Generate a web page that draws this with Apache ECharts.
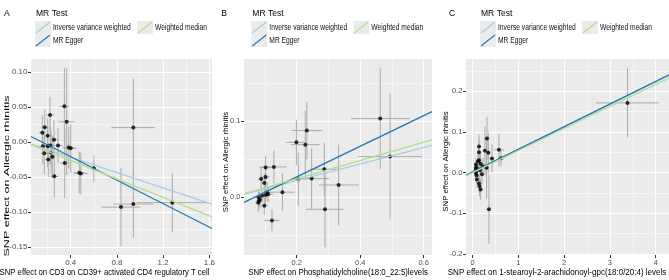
<!DOCTYPE html>
<html>
<head>
<meta charset="utf-8">
<script src="https://cdn.jsdelivr.net/npm/echarts@6/dist/echarts.min.js"></script>
<style>
  html, body { margin: 0; padding: 0; background: #fff; }
  #chart { width: 669px; height: 280px; }
</style>
</head>
<body>
<div id="chart"></div>
<script>
// MR methods, legend order
const methodNames = ['Inverse variance weighted', 'MR Egger', 'Weighted median'];
const methodColors = ['#A6CEE3', '#1F78B4', '#B2DF8A'];

// Panel A: CD3 on CD39+ activated CD4 regulatory T cell
const aBetaX = [0.345, 0.365, 0.221, 0.175, 0.154, 0.201, 0.255, 0.29, 0.158, 0.201, 0.224, 0.383, 0.40,
  0.171, 0.23, 0.24, 0.206, 0.348, 0.258, 0.474, 0.487, 0.60, 0.835, 0.942, 0.942, 1.28];
const aBetaY = [0.051, 0.029, 0.0386, 0.021, 0.0134, 0.009, 0.0034, -0.005, -0.006, -0.006, -0.005, -0.008, -0.009,
  -0.016, -0.015, -0.021, -0.025, -0.030, -0.049, -0.044, -0.045, -0.0376, -0.093, -0.0886, 0.0206, -0.0866];
const aSeX = [0.045, 0.07, 0.035, 0.03, 0.03, 0.035, 0.04, 0.04, 0.035, 0.03, 0.035, 0.05, 0.05,
  0.03, 0.035, 0.03, 0.03, 0.04, 0.035, 0.05, 0.06, 0.02, 0.17, 0.17, 0.19, 0.31];
const aSeY = [0.055, 0.076, 0.026, 0.025, 0.025, 0.025, 0.028, 0.025, 0.025, 0.03, 0.028, 0.03, 0.035,
  0.03, 0.03, 0.03, 0.025, 0.05, 0.03, 0.03, 0.03, 0.019, 0.056, 0.048, 0.07, 0.042];
const aSlope = [-0.0547, -0.0839, -0.0659];
const aIntercept = [0, 0.0126, 0];
const aXRange = [0.056, 1.623];
const aYRange = [-0.1614, 0.1186];
const aXTicks = [0.4, 0.8, 1.2, 1.6];
const aYTicks = [-0.15, -0.10, -0.05, 0.00, 0.05, 0.10];
const aXTitle = 'SNP effect on CD3 on CD39+ activated CD4 regulatory T cell';

// Panel B: Phosphatidylcholine(18:0_22:5)
const bBetaX = [0.463, 0.494, 0.232, 0.199, 0.227, 0.205, 0.247, 0.287, 0.332, 0.289, 0.155, 0.128, 0.102,
  0.102, 0.088, 0.098, 0.122, 0.098, 0.080, 0.084, 0.081, 0.079, 0.091, 0.107, 0.102, 0.110];
const bBetaY = [0.1034, 0.0532, 0.0876, 0.072, 0.069, 0.0234, 0.0242, 0.0366, 0.0158, -0.0163, 0.0063, 0.0396, 0.0387,
  0.0264, 0.0238, 0.0185, -0.031, -0.0115, -0.0005, -0.0036, -0.0054, -0.0077, 0.0017, 0.0057, 0.0026, 0.0035];
const bSeX = [0.092, 0.10, 0.049, 0.032, 0.045, 0.025, 0.055, 0.045, 0.063, 0.059, 0.038, 0.04, 0.02,
  0.015, 0.012, 0.012, 0.024, 0.012, 0.01, 0.01, 0.01, 0.01, 0.012, 0.015, 0.012, 0.015];
const bSeY = [0.067, 0.083, 0.038, 0.03, 0.045, 0.035, 0.04, 0.035, 0.053, 0.05, 0.025, 0.022, 0.015,
  0.015, 0.015, 0.012, 0.014, 0.012, 0.01, 0.01, 0.012, 0.012, 0.01, 0.012, 0.012, 0.01];
const bSlope = [0.1085, 0.2022, 0.1205];
const bIntercept = [0, -0.0141, 0];
const bXRange = [0.034, 0.626];
const bYRange = [-0.0766, 0.182];
const bXTicks = [0.2, 0.4, 0.6];
const bYTicks = [0.0, 0.1];
const bXTitle = 'SNP effect on Phosphatidylcholine(18:0_22:5)levels';

// Panel C: 1-stearoyl-2-arachidonoyl-gpc(18:0/20:4)
const cBetaX = [3.384, 0.314, 0.576, 0.14, 0.27, 0.14, 0.343, 0.423, 0.62, 0.118, 0.14, 0.175, 0.227, 0.074,
  0.074, 0.074, 0.074, 0.306, 0.11, 0.16, 0.074, 0.087, 0.205, 0.095, 0.14, 0.153, 0.175, 0.358];
const cBetaY = [0.1712, 0.0838, 0.0558, 0.064, 0.0533, 0.050, 0.0484, 0.0346, 0.0354, 0.028, 0.030, 0.0214, 0.0157, 0.020,
  0.0125, 0.0076, 0.0027, 0.0116, 0.009, 0.006, -0.002, -0.007, -0.004, -0.017, -0.027, -0.0334, -0.0415, -0.0899];
const cSeX = [0.69, 0.06, 0.11, 0.04, 0.05, 0.04, 0.05, 0.05, 0.05, 0.03, 0.03, 0.04, 0.05, 0.02,
  0.02, 0.02, 0.02, 0.05, 0.03, 0.03, 0.02, 0.02, 0.04, 0.02, 0.03, 0.03, 0.03, 0.04];
const cSeY = [0.085, 0.053, 0.04, 0.03, 0.06, 0.03, 0.05, 0.034, 0.02, 0.02, 0.02, 0.025, 0.02, 0.015,
  0.015, 0.015, 0.015, 0.075, 0.02, 0.02, 0.02, 0.02, 0.025, 0.02, 0.02, 0.025, 0.025, 0.085];
const cSlope = [0.0556, 0.0556, 0.0541];
const cIntercept = [0, 0.0016, 0];
const cXRange = [-0.144, 4.29];
const cYRange = [-0.2025, 0.279];
const cXTicks = [0, 1, 2, 3, 4];
const cYTicks = [-0.2, -0.1, 0.0, 0.1, 0.2];
const cXTitle = 'SNP effect on 1-stearoyl-2-arachidonoyl-gpc(18:0/20:4) levels';

const yTitle = 'SNP effect on Allergic rhinitis';
const panelLetters = ['A', 'B', 'C'];

const FONT = '"Liberation Sans", Arial, sans-serif';

// per-panel layout: grid box, legend offset,
// x title [cx, cy, fontSize, widthScale], y title [cx, cy, fontSize, thicknessScale]
const panels = [
  { bx: aBetaX, by: aBetaY, sx: aSeX, sy: aSeY, slope: aSlope, icpt: aIntercept,
    xRange: aXRange, yRange: aYRange, xTicks: aXTicks, yTicks: aYTicks, xDig: 1, yDig: 2, xTitle: aXTitle,
    grid: { left: 31, top: 59, width: 181, height: 196 }, dx: 0, tickFont: 8,
    xTitlePos: [104.5, 272.5, 9.2, 0.84], yTitlePos: [6.5, 176, 12.5, 0.6] },
  { bx: bBetaX, by: bBetaY, sx: bSeX, sy: bSeY, slope: bSlope, icpt: bIntercept,
    xRange: bXRange, yRange: bYRange, xTicks: bXTicks, yTicks: bYTicks, xDig: 1, yDig: 1, xTitle: bXTitle,
    grid: { left: 244, top: 59, width: 188, height: 196 }, dx: 216.3, tickFont: 7.5,
    xTitlePos: [338, 272.5, 9.2, 0.85], yTitlePos: [226.5, 162, 7.8, 0.9] },
  { bx: cBetaX, by: cBetaY, sx: cSeX, sy: cSeY, slope: cSlope, icpt: cIntercept,
    xRange: cXRange, yRange: cYRange, xTicks: cXTicks, yTicks: cYTicks, xDig: 0, yDig: 1, xTitle: cXTitle,
    grid: { left: 466, top: 59, width: 203, height: 196 }, dx: 445, tickFont: 7.5,
    xTitlePos: [557, 272.5, 9.2, 0.87], yTitlePos: [446, 161.5, 7.8, 0.9] }
];

const chart = echarts.init(document.getElementById('chart'), null, { renderer: 'canvas' });

const grids = [];
const xAxes = [];
const yAxes = [];
const series = [];
const graphics = [];

function axisStyle(ticks, digits, range, fontSize) {
  const step = ticks[1] - ticks[0];
  return {
    min: range[0],
    max: range[1],
    minInterval: step,
    maxInterval: step,
    axisLine: { show: false, onZero: false },
    axisTick: { show: true, customValues: ticks, length: 3, lineStyle: { color: '#333333', width: 1 } },
    axisLabel: {
      customValues: ticks, color: '#4d4d4d', fontSize: fontSize, fontFamily: FONT, margin: 3.5,
      formatter: (v) => Number(v).toFixed(digits)
    },
    splitLine: { show: true, lineStyle: { color: '#ffffff', width: 1 } },
    minorTick: { show: false, splitNumber: 2 },
    minorSplitLine: { show: true, lineStyle: { color: '#ffffff', width: 0.5 } }
  };
}

// legend layout (relative to panel A)
const legendSlots = [
  { kx: 35, ky: 21 },   // IVW
  { kx: 35, ky: 34 },   // MR Egger
  { kx: 137, ky: 21 }   // Weighted median
];

panels.forEach((p, i) => {
  grids.push(Object.assign({ show: true, backgroundColor: '#ebebeb', borderWidth: 0, outerBoundsMode: 'none' }, p.grid));
  xAxes.push(Object.assign({ type: 'value', gridIndex: i }, axisStyle(p.xTicks, p.xDig, p.xRange, p.tickFont)));
  yAxes.push(Object.assign({ type: 'value', gridIndex: i }, axisStyle(p.yTicks, p.yDig, p.yRange, p.tickFont)));

  const rows = p.bx.map((x, k) => [x, p.by[k], p.sx[k], p.sy[k]]);

  // error bars (beta +/- se on both axes)
  series.push({
    type: 'custom',
    xAxisIndex: i,
    yAxisIndex: i,
    clip: true,
    silent: true,
    z: 1,
    encode: { x: 0, y: 1 },
    data: rows,
    renderItem: (params, api) => {
      const x = api.value(0), y = api.value(1), sx = api.value(2), sy = api.value(3);
      const h0 = api.coord([x - sx, y]), h1 = api.coord([x + sx, y]);
      const v0 = api.coord([x, y - sy]), v1 = api.coord([x, y + sy]);
      const st = { stroke: '#ababab', lineWidth: 1 };
      return {
        type: 'group',
        children: [
          { type: 'line', shape: { x1: h0[0], y1: h0[1], x2: h1[0], y2: h1[1] }, style: st },
          { type: 'line', shape: { x1: v0[0], y1: v0[1], x2: v1[0], y2: v1[1] }, style: st }
        ]
      };
    }
  });

  series.push({
    type: 'scatter',
    xAxisIndex: i,
    yAxisIndex: i,
    z: 2,
    symbolSize: 4,
    itemStyle: { color: '#000000' },
    data: rows.map((r) => [r[0], r[1]])
  });

  // regression lines
  methodNames.forEach((name, m) => {
    series.push({
      type: 'line',
      name: name,
      xAxisIndex: i,
      yAxisIndex: i,
      z: 3 + m,
      symbol: 'none',
      clip: true,
      lineStyle: { color: methodColors[m], width: 1.3 },
      data: p.xRange.map((x) => [x, p.icpt[m] + p.slope[m] * x])
    });
  });

  // panel letter and legend
  graphics.push({ type: 'text', x: 4 + p.dx + (i === 1 ? 1 : 0), y: 13, scaleX: 0.9,
    style: { text: panelLetters[i], fontSize: 9.5, fontFamily: FONT, fill: '#000', verticalAlign: 'middle' } });
  graphics.push({ type: 'text', x: 36 + p.dx, y: 13, scaleX: 0.92,
    style: { text: 'MR Test', fontSize: 9.3, fontFamily: FONT, fill: '#000', verticalAlign: 'middle' } });
  methodNames.forEach((name, m) => {
    const s = legendSlots[m];
    const kx = s.kx + p.dx;
    graphics.push({ type: 'rect', shape: { x: kx, y: s.ky, width: 16, height: 13 }, style: { fill: '#ebebeb' } });
    graphics.push({ type: 'line', shape: { x1: kx + 1, y1: s.ky + 12, x2: kx + 15, y2: s.ky + 1 },
      style: { stroke: methodColors[m], lineWidth: 1.1 } });
    graphics.push({ type: 'text', x: kx + 18, y: s.ky + 6.5, scaleX: 0.8,
      style: { text: name, fontSize: 8.4, fontFamily: FONT, fill: '#111', verticalAlign: 'middle' } });
  });

  // axis titles
  graphics.push({ type: 'text', x: p.xTitlePos[0], y: p.xTitlePos[1], scaleX: p.xTitlePos[3],
    style: { text: p.xTitle, fontSize: p.xTitlePos[2], fontFamily: FONT, fill: '#000', align: 'center', verticalAlign: 'middle' } });
  graphics.push({ type: 'text', x: p.yTitlePos[0], y: p.yTitlePos[1], rotation: Math.PI / 2, scaleY: p.yTitlePos[3],
    style: { text: yTitle, fontSize: p.yTitlePos[2], fontFamily: FONT, fill: '#000', align: 'center', verticalAlign: 'middle' } });
});

chart.setOption({
  animation: false,
  backgroundColor: '#ffffff',
  grid: grids,
  xAxis: xAxes,
  yAxis: yAxes,
  series: series,
  graphic: graphics
});
</script>
</body>
</html>
